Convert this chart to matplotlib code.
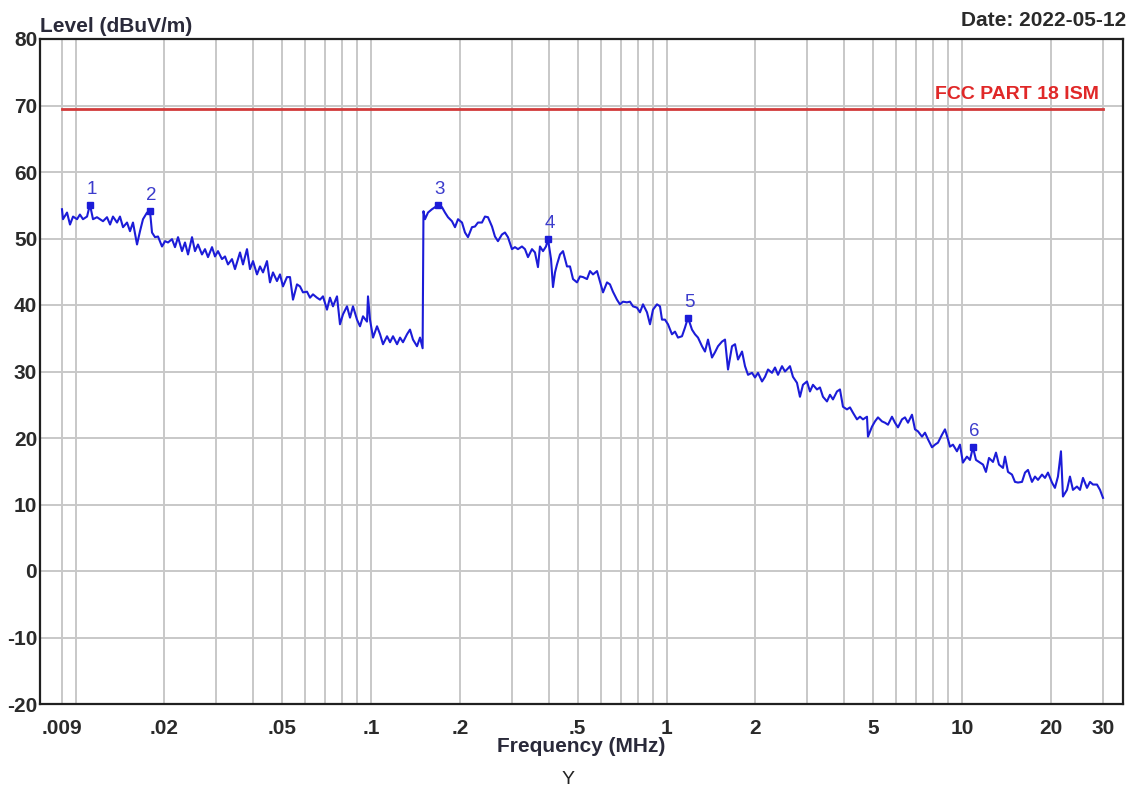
import matplotlib
matplotlib.use("Agg")
import matplotlib.pyplot as plt
from matplotlib.ticker import FixedLocator, FixedFormatter, NullFormatter

# ---------------- data (frequency in MHz, level in dBuV/m) ----------------
freq_mhz = [
    0.00900, 0.00907, 0.00936, 0.00958, 0.00981, 0.01012, 0.01035, 0.01060, 0.01094, 0.01119,
    0.01146, 0.01182, 0.01210, 0.01239, 0.01278, 0.01309, 0.01339, 0.01382, 0.01414, 0.01448,
    0.01494, 0.01529, 0.01565, 0.01615, 0.01653, 0.01692, 0.01746, 0.01787, 0.01815, 0.01858,
    0.01902, 0.01962, 0.02009, 0.02056, 0.02121, 0.02171, 0.02223, 0.02293, 0.02347, 0.02403,
    0.02479, 0.02537, 0.02597, 0.02679, 0.02743, 0.02808, 0.02897, 0.02965, 0.03035, 0.03131,
    0.03206, 0.03281, 0.03385, 0.03465, 0.03547,
    0.03603, 0.03688, 0.03805, 0.03895, 0.03987, 0.04113, 0.04211, 0.04311, 0.04446, 0.04551,
    0.04659, 0.04806, 0.04920, 0.05036, 0.05196, 0.05319, 0.05445, 0.05617, 0.05750, 0.05886,
    0.06073, 0.06216, 0.06363, 0.06564, 0.06720, 0.06878, 0.07096, 0.07264, 0.07436, 0.07672,
    0.07853, 0.08039, 0.08293, 0.08490, 0.08690, 0.08966, 0.09178, 0.09395, 0.09692, 0.09768,
    0.09922, 0.1016, 0.1048, 0.1073, 0.1098, 0.1133, 0.1160, 0.1187, 0.1225, 0.1254,
    0.1283, 0.1324, 0.1355, 0.1387, 0.1431, 0.1465, 0.1495, 0.1500, 0.1505,
    0.1523, 0.1559, 0.1608, 0.1646, 0.1685, 0.1739, 0.1780, 0.1822, 0.1879, 0.1924,
    0.1970, 0.2032, 0.2080, 0.2129, 0.2196, 0.2248, 0.2301, 0.2374, 0.2430, 0.2488,
    0.2567, 0.2627, 0.2689, 0.2774, 0.2840, 0.2907, 0.2999, 0.3070, 0.3143, 0.3242,
    0.3319, 0.3398, 0.3505, 0.3588, 0.3673, 0.3731, 0.3820, 0.3910, 0.3972, 0.4066,
    0.4129, 0.4194, 0.4260, 0.4361, 0.4464, 0.4605, 0.4714, 0.4826, 0.4979, 0.5096,
    0.5217, 0.5382, 0.5510, 0.5640, 0.5819, 0.5956, 0.6097, 0.6290,
    0.6436, 0.6588, 0.6797, 0.6958, 0.7123, 0.7348, 0.7522, 0.7700, 0.7945, 0.8133,
    0.8326, 0.8589, 0.8793, 0.9000, 0.9285, 0.9504, 0.9654, 0.9881, 1.0116, 1.0435,
    1.0683, 1.0935, 1.1282, 1.1548, 1.1822, 1.2196, 1.2486, 1.2780, 1.3187, 1.3497,
    1.3817, 1.4254, 1.4593, 1.4937, 1.5412, 1.5775, 1.6149, 1.6660, 1.7056, 1.7458,
    1.8013, 1.8437, 1.8874, 1.9470, 1.9930, 2.0400, 2.1049, 2.1544, 2.2055, 2.2751,
    2.3291, 2.3839, 2.4597, 2.5177,
    2.5562, 2.6169, 2.6787, 2.7638, 2.8289, 2.8960, 2.9876, 3.0585, 3.1305, 3.2300,
    3.3060, 3.3846, 3.4917, 3.5745, 3.6586, 3.7749, 3.8637, 3.9555, 4.0806, 4.1775,
    4.2759, 4.4118, 4.5156, 4.6228, 4.7690, 4.8064, 4.9581, 5.0758, 5.1954, 5.3604,
    5.4866, 5.6169, 5.7943, 5.9320, 6.0716, 6.2646, 6.4121, 6.5645, 6.7720, 6.9328,
    7.0958, 7.3217, 7.4939, 7.6720, 7.9145, 8.1026, 8.2933, 8.5570, 8.7584, 8.9665,
    9.104, 9.320, 9.614, 9.842, 10.07, 10.39, 10.64, 10.89, 11.15, 11.41,
    11.78, 12.05, 12.34, 12.73, 13.03, 13.34, 13.76, 13.98, 14.31, 14.76,
    15.11, 15.47, 15.96, 16.34, 16.72, 17.25, 17.66, 18.08, 18.65, 19.09,
    19.54, 20.16, 20.63, 21.12, 21.62, 21.96, 22.66, 23.19, 23.74, 24.49,
    25.08, 25.67, 26.48, 27.11, 27.75, 28.63, 29.31, 30.00,
]

level_dbuv = [
    54.4, 52.9, 53.9, 52.1, 53.3, 52.9, 53.6, 52.9, 53.3, 55.1,
    52.9, 53.2, 52.9, 52.6, 53.2, 52.1, 53.3, 52.4, 53.3, 51.7,
    52.4, 51.1, 52.4, 49.1, 51.1, 52.9, 53.9, 54.1, 50.9, 50.2,
    50.3, 48.8, 49.6, 49.4, 49.9, 48.7, 50.2, 48.1, 49.4, 47.6,
    50.2, 48.1, 49.1, 47.6, 48.4, 47.2, 48.7, 47.3, 48.1, 46.9,
    47.3, 46.1, 46.9, 45.4, 46.9,
    47.9, 46.1, 48.4, 45.4, 46.6, 44.6, 45.8, 44.9, 46.6, 43.4,
    44.9, 43.6, 44.6, 42.8, 44.2, 44.2, 40.8, 43.1, 42.8, 41.9,
    42.0, 41.1, 41.6, 41.1, 40.8, 41.3, 39.3, 41.1, 39.8, 41.3,
    37.1, 38.6, 39.8, 38.1, 39.8, 37.8, 36.8, 38.3, 37.5, 41.3,
    37.8, 35.1, 36.8, 35.6, 34.1, 35.3, 34.4, 35.3, 34.1, 35.1,
    34.4, 35.6, 36.3, 34.8, 33.8, 35.1, 33.5, 44.0, 54.1,
    52.9, 53.9, 54.4, 54.7, 55.1, 54.7, 53.9, 53.2, 52.6, 51.7,
    52.9, 52.4, 50.9, 50.2, 51.7, 51.8, 52.4, 52.4, 53.3, 53.2,
    51.8, 50.3, 49.6, 50.6, 50.9, 50.2, 48.4, 48.7, 48.4, 48.8,
    48.4, 47.2, 48.4, 47.9, 45.7, 48.8, 48.1, 48.8, 49.9, 46.9,
    42.7, 44.9, 46.1, 47.6, 48.1, 45.8, 45.8, 43.9, 43.4, 44.3,
    44.2, 43.9, 45.1, 44.6, 45.1, 43.5, 41.9, 43.4,
    43.1, 42.0, 40.8, 40.1, 40.5, 40.4, 40.5, 39.8, 39.6, 38.9,
    40.1, 38.9, 37.1, 39.3, 40.1, 39.8, 37.8, 37.8, 37.1, 35.6,
    36.0, 35.1, 35.3, 36.6, 38.1, 36.3, 35.6, 35.1, 33.8, 33.0,
    34.8, 32.1, 32.9, 33.8, 34.5, 34.8, 30.3, 33.8, 34.1, 31.8,
    33.0, 30.8, 29.5, 29.8, 29.1, 29.8, 28.5, 29.2, 30.3, 29.8,
    30.6, 29.5, 30.8, 30.0,
    30.3, 30.8, 29.2, 28.3, 26.2, 28.0, 28.5, 27.0, 28.0, 27.3,
    27.6, 26.2, 25.5, 26.5, 25.8, 27.0, 27.3, 24.7, 24.3, 24.6,
    23.8, 22.8, 23.2, 22.8, 23.2, 20.2, 21.7, 22.5, 23.1, 22.5,
    22.3, 22.0, 23.2, 22.3, 21.6, 22.8, 23.1, 22.3, 23.5, 21.3,
    21.0, 20.2, 20.8, 19.8, 18.6, 19.0, 19.3, 20.5, 21.3, 19.8,
    18.7, 19.0, 18.0, 19.0, 16.3, 17.2, 16.7, 18.6, 16.7, 16.4,
    16.0, 14.9, 17.0, 16.4, 17.8, 16.0, 15.5, 17.2, 14.9, 14.5,
    13.4, 13.3, 13.4, 14.8, 15.2, 13.4, 14.2, 13.7, 14.5, 14.0,
    14.8, 13.3, 12.5, 14.2, 18.0, 11.2, 12.2, 14.2, 12.2, 12.7,
    12.2, 14.0, 12.5, 13.4, 13.0, 13.0, 12.2, 11.0,
]

marker_ids = ["1", "2", "3", "4", "5", "6"]
marker_freqs = [0.01119, 0.01787, 0.1685, 0.3972, 1.1822, 10.89]
marker_levels = [55.1, 54.1, 55.1, 49.9, 38.1, 18.6]

limit_freqs = [0.009, 30.0]
limit_levels = [69.5, 69.5]
limit_name = "FCC PART 18 ISM"

x_ticks = [0.009, 0.02, 0.05, 0.1, 0.2, 0.5, 1, 2, 5, 10, 20, 30]
x_tick_labels = [".009", ".02", ".05", ".1", ".2", ".5", "1", "2", "5", "10", "20", "30"]
x_grid = [0.009, 0.01, 0.02, 0.03, 0.04, 0.05, 0.06, 0.07, 0.08, 0.09,
          0.1, 0.2, 0.3, 0.4, 0.5, 0.6, 0.7, 0.8, 0.9,
          1, 2, 3, 4, 5, 6, 7, 8, 9, 10, 20, 30]
y_ticks = [-20, -10, 0, 10, 20, 30, 40, 50, 60, 70, 80]

# ---------------- figure ----------------
plt.rcParams['font.family'] = ['Liberation Sans', 'DejaVu Sans']
W, H = 1135, 790
fig = plt.figure(figsize=(W / 100, H / 100), dpi=100)
ax = fig.add_axes([40 / W, 1 - 704 / H, (1123 - 40) / W, (704 - 39) / H])

ax.set_xscale('log')
ax.set_xlim(0.007583, 35.06)
ax.set_ylim(-20, 80)

grid_col = '#c8c8c8'
for gx in x_grid:
    ax.axvline(gx, color=grid_col, lw=1.4, zorder=0)
for gy in y_ticks:
    ax.axhline(gy, color=grid_col, lw=1.4, zorder=0)

ax.xaxis.set_major_locator(FixedLocator(x_ticks))
ax.xaxis.set_major_formatter(FixedFormatter(x_tick_labels))
ax.xaxis.set_minor_locator(FixedLocator([]))
ax.xaxis.set_minor_formatter(NullFormatter())
ax.set_yticks(y_ticks)
ax.set_yticklabels([str(v) for v in y_ticks])
ax.tick_params(axis='both', length=0, labelsize=15, colors='#2a2a2a')
ax.tick_params(axis='x', pad=11)
ax.tick_params(axis='y', pad=2)
for lab in ax.get_xticklabels() + ax.get_yticklabels():
    lab.set_fontweight('bold')

for sp in ax.spines.values():
    sp.set_color('#202020')
    sp.set_linewidth(1.6)

# limit line
ax.plot(limit_freqs, limit_levels, color='#d23a3a', lw=2.0, zorder=2)
ax.text(limit_freqs[1] * 0.97, limit_levels[0] + 0.9, limit_name, color='#e02828',
        fontsize=14, fontweight='bold', ha='right', va='bottom', zorder=3)

# measurement trace
ax.plot(freq_mhz, level_dbuv, color='#1c1cd8', lw=1.5, zorder=3)

# markers
ax.plot(marker_freqs, marker_levels, linestyle='none', marker='s', markersize=3.8,
        color='#1c1cd8', zorder=4)
for mid, mf, ml in zip(marker_ids, marker_freqs, marker_levels):
    ax.annotate(mid, (mf, ml), xytext=(1, 5), textcoords='offset points',
                ha='center', va='bottom', fontsize=13.5, color='#3c3ccc', zorder=5)

# titles
fig.text(40 / W, 1 - 26 / H, "Level (dBuV/m)", fontsize=15, fontweight='bold',
         color='#2a2a3a', ha='left', va='center')
fig.text(1126 / W, 1 - 20 / H, "Date: 2022-05-12", fontsize=15, fontweight='bold',
         color='#2a2a2a', ha='right', va='center')
fig.text(581 / W, 1 - 747 / H, "Frequency (MHz)", fontsize=15, fontweight='bold',
         color='#2a2a3a', ha='center', va='center')
fig.text(568 / W, 1 - 780 / H, "Y", fontsize=14, color='#222222',
         ha='center', va='center')

fig.savefig('out.png', dpi=100, facecolor='white')
